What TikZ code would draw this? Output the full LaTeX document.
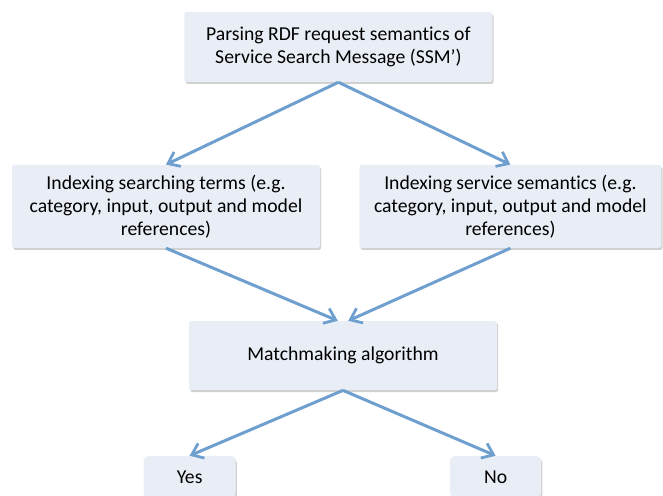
\documentclass[tikz,border=0pt]{standalone}
\usepackage{fontspec}
\setmainfont{Carlito}[Ligatures=NoCommon]
\usepackage{xcolor}
\definecolor{boxfill}{HTML}{E9EEF6}
\definecolor{flow}{HTML}{6E9FCF}
\usetikzlibrary{positioning,arrows.meta,shadows}

\begin{document}
\begin{tikzpicture}[x=1mm,y=1mm,font=\fontsize{14}{16.5}\selectfont,
  stage/.style={fill=boxfill,rounded corners=0.6mm,minimum width=77mm,align=center,inner sep=1pt,
    drop shadow={opacity=0.3,shadow xshift=0.3mm,shadow yshift=-0.5mm,fill=black!60}},
  outcome/.style={stage,minimum width=23mm,minimum height=10.5mm,rounded corners=1.2mm},
  link/.style={-{Straight Barb[length=2.6mm,width=4mm,line width=0.7mm]},flow,line width=0.75mm}]
  \useasboundingbox (0,0) rectangle (165.75,124);
  \node[stage,minimum height=17.5mm] (parse) at (84.6,112.25) {Parsing RDF request semantics of\\Service Search Message (SSM’)};
  \node[stage,minimum height=20.75mm] (terms) at (41.5,72.4) {Indexing searching terms (e.g.\\category, input, output and model\\references)};
  \node[stage,minimum height=20.75mm,minimum width=75.5mm] (sem) at (127.6,72.4) {Indexing service semantics (e.g.\\category, input, output and model\\references)};
  \node[stage,minimum height=17.25mm] (match) at (85.75,35.1) {Matchmaking algorithm};
  \node[outcome] (yes) at (47.4,4.75) {Yes};
  \node[outcome,minimum width=22.75mm] (no) at (123.9,4.75) {No};
  \foreach \p/\q in {parse/terms,parse/sem,match/yes,match/no} \draw[link] (\p.south) -- (\q.north);
  \draw[link] (terms.south) -- ([xshift=-1.3mm]match.north);
  \draw[link] (sem.south) -- ([xshift=1.3mm]match.north);
\end{tikzpicture}
\end{document}
